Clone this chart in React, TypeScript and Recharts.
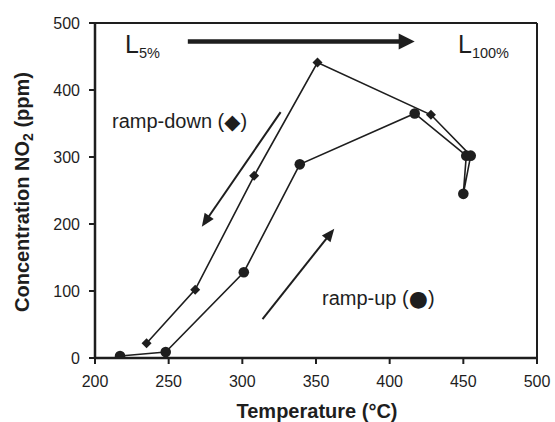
import React from 'react';
import { ScatterChart, Scatter, XAxis, YAxis, ReferenceLine } from 'recharts';

const xTicks = [200, 250, 300, 350, 400, 450, 500];
const yTicks = [0, 100, 200, 300, 400, 500];

const rampUp = [
  { x: 217, y: 3 },
  { x: 248, y: 9 },
  { x: 301, y: 128 },
  { x: 339, y: 289 },
  { x: 417, y: 365 },
  { x: 452, y: 302 },
  { x: 450, y: 245 },
  { x: 455, y: 302 },
];

const rampDown = [
  { x: 455, y: 302 },
  { x: 428, y: 363 },
  { x: 351, y: 441 },
  { x: 308, y: 272 },
  { x: 268, y: 102 },
  { x: 235, y: 22 },
];

const arrowMain = [{ x: 263, y: 472.5 }, { x: 417, y: 472.5 }];
const arrowDown = [{ x: 326, y: 367 }, { x: 272.5, y: 196 }];
const arrowUp = [{ x: 313.7, y: 58 }, { x: 362.4, y: 193 }];

const INK = '#1e1e1e';
const FONT = '"Liberation Sans", Arial, sans-serif';
const SYM = '"DejaVu Sans", sans-serif';

const makeArrow = (w: number, headLen: number, headW: number) => (p: any) => {
  const { x1, y1, x2, y2 } = p;
  if ([x1, y1, x2, y2].some((v) => v === undefined || isNaN(v))) return null;
  const dx = x2 - x1;
  const dy = y2 - y1;
  const len = Math.hypot(dx, dy);
  const ux = dx / len;
  const uy = dy / len;
  const bx = x2 - ux * headLen;
  const by = y2 - uy * headLen;
  const nx = -uy;
  const ny = ux;
  const pts = `${x2},${y2} ${bx + (nx * headW) / 2},${by + (ny * headW) / 2} ${bx - (nx * headW) / 2},${by - (ny * headW) / 2}`;
  return (
    <g>
      <line x1={x1} y1={y1} x2={bx + ux * 1} y2={by + uy * 1} stroke={INK} strokeWidth={w} />
      <polygon points={pts} fill={INK} />
    </g>
  );
};

const circleShape = (p: any) => <circle cx={p.cx} cy={p.cy} r={5.3} fill={INK} />;
const diamondShape = (p: any) => {
  const s = 5;
  return (
    <polygon
      points={`${p.cx},${p.cy - s} ${p.cx + s},${p.cy} ${p.cx},${p.cy + s} ${p.cx - s},${p.cy}`}
      fill={INK}
    />
  );
};

export default function App() {
  return (
    <div style={{ position: 'absolute', left: 0, top: 0, width: 555, height: 422, background: '#fff' }}>
      <ScatterChart width={555} height={422} margin={{ top: 23, right: 18, bottom: 34, left: 35 }}>
        <XAxis
          type="number"
          dataKey="x"
          domain={[200, 500]}
          ticks={xTicks}
          allowDataOverflow
          height={30}
          axisLine={{ stroke: INK, strokeWidth: 2.5 }}
          tickLine={{ stroke: INK, strokeWidth: 2 }}
          tickSize={6}
          tickMargin={12}
          tick={{ fill: INK, fontSize: 16, fontFamily: FONT }}
        />
        <YAxis
          type="number"
          dataKey="y"
          domain={[0, 500]}
          ticks={yTicks}
          allowDataOverflow
          width={60}
          axisLine={{ stroke: INK, strokeWidth: 2.5 }}
          tickLine={{ stroke: INK, strokeWidth: 2 }}
          tickSize={6}
          tickMargin={9}
          tick={{ fill: INK, fontSize: 16, fontFamily: FONT }}
        />
        <ReferenceLine y={500} stroke={INK} strokeWidth={2} />
        <ReferenceLine x={500} stroke={INK} strokeWidth={2} />
        <ReferenceLine segment={arrowMain} shape={makeArrow(4.5, 16, 16)} />
        <ReferenceLine segment={arrowDown} shape={makeArrow(2, 13, 11)} />
        <ReferenceLine segment={arrowUp} shape={makeArrow(2, 13, 11)} />
        <Scatter
          data={rampDown}
          line={{ stroke: INK, strokeWidth: 1.6 }}
          lineType="joint"
          shape={diamondShape}
          isAnimationActive={false}
        />
        <Scatter
          data={rampUp}
          line={{ stroke: INK, strokeWidth: 1.6 }}
          lineType="joint"
          shape={circleShape}
          isAnimationActive={false}
        />
      </ScatterChart>
      <svg
        width={555}
        height={422}
        style={{ position: 'absolute', left: 0, top: 0, pointerEvents: 'none' }}
        fontFamily={FONT}
      >
        <text x={125} y={52.7} fontSize={25} fill={INK}>
          L<tspan fontSize={14.5} dy={5}>5%</tspan>
        </text>
        <text x={458} y={52.7} fontSize={25} fill={INK}>
          L<tspan fontSize={14.5} dy={5}>100%</tspan>
        </text>
        <text x={112} y={128} fontSize={20} fill={INK}>
          ramp-down (<tspan fontFamily={SYM} fontSize={21} dy={1}>◆</tspan>
          <tspan dy={-1}>)</tspan>
        </text>
        <text x={322} y={304.5} fontSize={20} fill={INK}>
          ramp-up (<tspan fontFamily={SYM} fontSize={22} dy={1}>●</tspan>
          <tspan dy={-1}>)</tspan>
        </text>
        <text x={317} y={418} fontSize={20} fontWeight="bold" textAnchor="middle" fill={INK}>
          Temperature (°C)
        </text>
        <text
          x={29}
          y={192}
          fontSize={20}
          fontWeight="bold"
          textAnchor="middle"
          fill={INK}
          transform="rotate(-90 29 192)"
        >
          Concentration NO<tspan fontSize={14} dy={4}>2</tspan>
          <tspan dy={-4}> (ppm)</tspan>
        </text>
      </svg>
    </div>
  );
}
